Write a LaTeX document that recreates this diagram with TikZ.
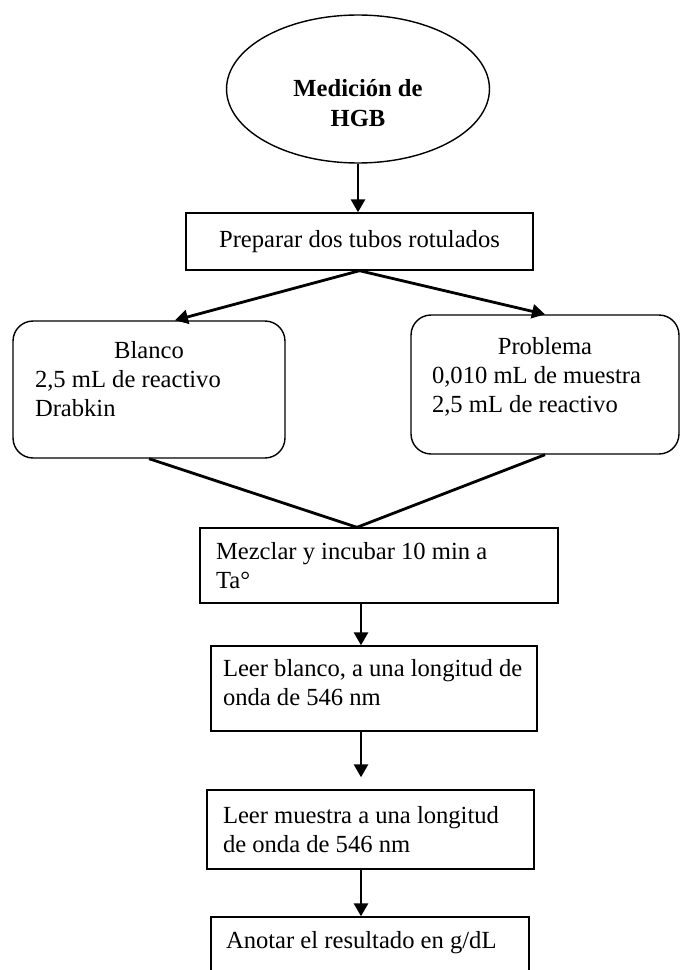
\documentclass[tikz,border=0pt]{standalone}
\usepackage{fontspec}
\setmainfont{Liberation Serif}
\usetikzlibrary{shapes.geometric, arrows.meta, calc}
\tikzstyle{elipse} = [
    ellipse,
    draw = black,
    line width = 0.8pt,
    minimum width = 5.26cm,
    minimum height = 2.96cm,
    align = flush center,
    font = \fontsize{14}{17}\selectfont\bfseries,
]
\tikzstyle{caja} = [
    rectangle,
    draw = black,
    line width = 0.8pt,
    align = flush left,
    inner xsep = 0pt,
    font = \fontsize{14}{16.5}\selectfont,
]
\tikzstyle{redondeada} = [caja, rounded corners = 0.4cm]
\tikzstyle{flecha} = [-{Triangle[length = 0.26cm, width = 0.28cm]}, line width = 1.6pt]
\tikzstyle{linea} = [-, line width = 1.6pt]

\begin{document}
\begin{tikzpicture} [x = 0.02cm, y = -0.02cm]
    \useasboundingbox (0, 0) rectangle (682, 970);
    \clip (0, 0) rectangle (682, 970);

    \node (Medicion) [elipse] at (358, 89) {\rule{0pt}{0.92cm}Medición de\\HGB};
    \node (Preparar) [caja, align = flush center, minimum width = 6.94cm, minimum height = 1.14cm] at (359.5, 241.5) {Preparar dos tubos rotulados};

    \node (Blanco) [redondeada, text width = 4.56cm, minimum width = 5.44cm, minimum height = 2.74cm] at (149, 389.5) {\makebox[\linewidth]{Blanco}\\2,5 mL de reactivo\\Drabkin\rule[-0.42cm]{0pt}{0pt}};
    \node (Problema) [redondeada, text width = 4.52cm, minimum width = 5.36cm, minimum height = 2.78cm] at (545, 384.5) {\makebox[\linewidth]{Problema}\\0,010 mL de muestra\\2,5 mL de reactivo\rule[-0.4cm]{0pt}{0pt}};

    \node (Mezclar) [caja, text width = 6.52cm, minimum width = 7.16cm, minimum height = 1.5cm] at (379, 565.5) {Mezclar y incubar 10 min a\\Ta°};
    \node (LeerBlanco) [caja, text width = 6.04cm, minimum width = 6.52cm, minimum height = 1.7cm] at (374, 688.5) {Leer blanco, a una longitud de\\onda de 546 nm\rule[-0.26cm]{0pt}{0pt}};
    \node (LeerMuestra) [caja, text width = 5.9cm, minimum width = 6.54cm, minimum height = 1.58cm] at (370.5, 829.5) {Leer muestra a una longitud\\de onda de 546 nm};
    \node (Anotar) [caja, text width = 5.76cm, minimum width = 6.36cm, minimum height = 1.6cm] at (370, 957) {Anotar el resultado en g/dL\rule[-0.7cm]{0pt}{0pt}};

    \coordinate (Eje) at (361, 0);

    \draw[flecha] (Medicion.south) -- (Medicion.south |- Preparar.north);
    \draw[flecha] (Preparar.south) -- ([xshift = 0.52cm] Blanco.north);
    \draw[flecha] (Preparar.south) -- (Problema.north);

    \draw[linea] (Blanco.south) -- ([xshift = -0.44cm] Mezclar.north) -- (Problema.south);

    \draw[flecha] (Mezclar.south -| Eje) -- (LeerBlanco.north -| Eje);
    \draw[flecha, shorten >= 0.24cm] (LeerBlanco.south -| Eje) -- (LeerMuestra.north -| Eje);
    \draw[flecha] (LeerMuestra.south -| Eje) -- (Anotar.north -| Eje);
\end{tikzpicture}
\end{document}
